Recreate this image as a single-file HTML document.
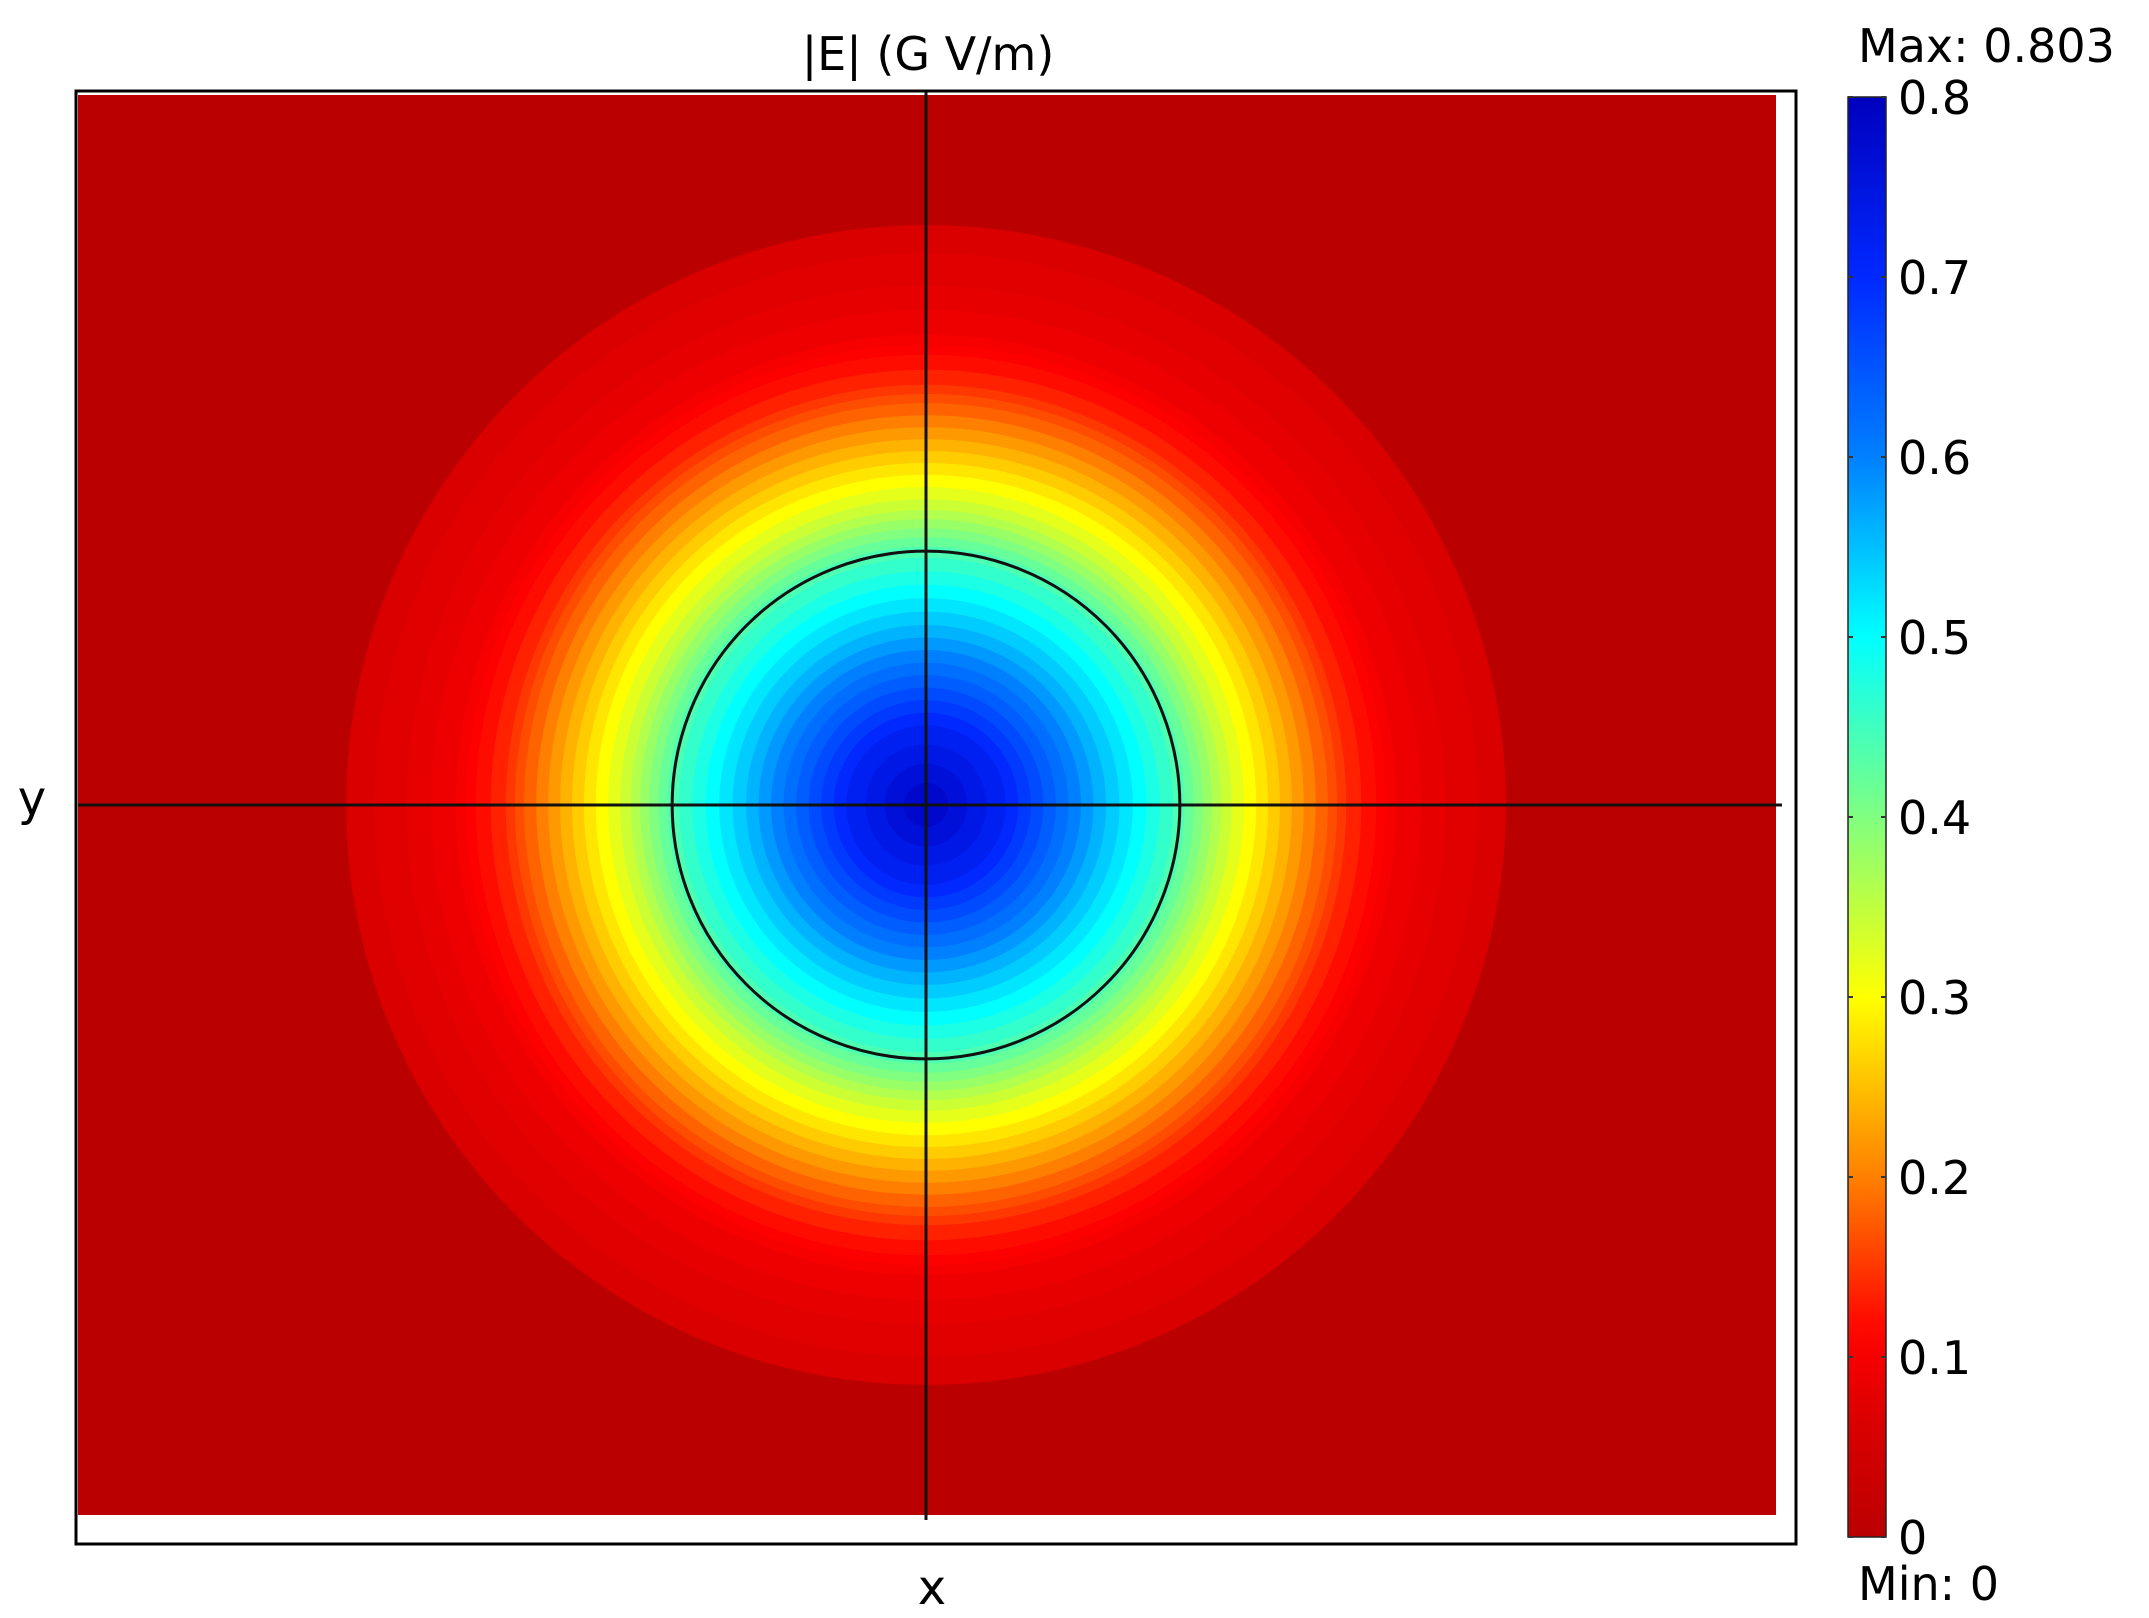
<!DOCTYPE html>
<html><head><meta charset="utf-8"><style>
html,body{margin:0;padding:0;background:#fff;}
svg{display:block;font-family:"DejaVu Sans","Liberation Sans",sans-serif;}
</style></head><body>
<svg id="chart" width="2149" height="1618" viewBox="0 0 2149 1618">
<defs><linearGradient id="cbgrad" x1="0" y1="1" x2="0" y2="0"></linearGradient>
<clipPath id="plotclip"><rect x="78" y="95" width="1698" height="1420"/></clipPath></defs>
<rect x="76" y="91" width="1720" height="1453" fill="#fff" stroke="#000" stroke-width="3"/>
<rect x="78" y="95" width="1698" height="1420" fill="#bb0000"/>
<g id="bands" clip-path="url(#plotclip)"></g>
<g id="lines"></g>
<g id="cbar"></g>
<text x="928" y="70" font-size="46" text-anchor="middle">|E| (G V/m)</text>
<text x="32" y="815" font-size="48" text-anchor="middle">y</text>
<text x="932" y="1604" font-size="48" text-anchor="middle">x</text>
<text x="1858" y="62" font-size="46">Max: 0.803</text>
<text x="1858" y="1600" font-size="46">Min: 0</text>
</svg>
<script>
// radial profile of |E| (r in plot units, E in GV/m)
const profileR = [0, 0.094, 0.212, 0.299, 0.353, 0.389, 0.459, 0.495, 0.554, 0.612, 0.683, 0.82, 1.2];
const profileE = [0.803, 0.72, 0.56, 0.45, 0.35, 0.3, 0.2, 0.15, 0.1, 0.08, 0.065, 0.03, 0.0];
const contourLevels = [0.065,0.072,0.08,0.09,0.1,0.11,0.12,0.135,0.15,0.165,0.18,0.2,0.22,0.24,0.26,0.28,0.3,0.32,0.34,0.36,0.38,0.4,0.42,0.44,0.46,0.48,0.5,0.52,0.54,0.56,0.58,0.6,0.62,0.64,0.66,0.68,0.7,0.72,0.74,0.76,0.78,0.8];
const highlightLevel = [0.45];
const cbTicks = [0,0.1,0.2,0.3,0.4,0.5,0.6,0.7,0.8];
const cbTickLabels = ["0","0.1","0.2","0.3","0.4","0.5","0.6","0.7","0.8"];
const vMin = 0, vMax = 0.8;

const NS = "http://www.w3.org/2000/svg";
const cx = 926, cy = 805, pxPerUnit = 849;
const sx = r => r * pxPerUnit;
const cbTop = 97, cbBot = 1537, cbX = 1848, cbW = 38;
const cbY = v => cbBot - (v - vMin) / (vMax - vMin) * (cbBot - cbTop);

const stops = [[0,[187,0,0]],[0.08,[218,0,0]],[0.14,[255,0,0]],[0.25,[255,128,0]],[0.375,[255,255,0]],[0.5,[128,255,128]],[0.625,[0,255,255]],[0.75,[0,128,255]],[0.875,[0,40,255]],[1,[0,0,190]]];
function color(v){
  let t = Math.max(0, Math.min(1, (v - vMin) / (vMax - vMin)));
  for (let i = 1; i < stops.length; i++) {
    if (t <= stops[i][0]) {
      const a = stops[i-1], b = stops[i], f = (t - a[0]) / (b[0] - a[0]);
      const c = a[1].map((x, k) => Math.round(x + (b[1][k] - x) * f));
      return `rgb(${c[0]},${c[1]},${c[2]})`;
    }
  }
  return "rgb(0,0,190)";
}
function radiusAt(level){
  for (let i = 1; i < profileR.length; i++) {
    if (profileE[i] <= level) {
      const f = (profileE[i-1] - level) / (profileE[i-1] - profileE[i]);
      return profileR[i-1] + f * (profileR[i] - profileR[i-1]);
    }
  }
  return profileR[profileR.length - 1];
}
const bands = document.getElementById("bands");
contourLevels.forEach((lv) => {
  const c = document.createElementNS(NS, "circle");
  c.setAttribute("cx", cx); c.setAttribute("cy", cy);
  c.setAttribute("r", sx(radiusAt(lv)));
  c.setAttribute("fill", color(lv));
  
  
  bands.appendChild(c);
});
const lines = document.getElementById("lines");
highlightLevel.forEach(lv => {
  const c = document.createElementNS(NS, "circle");
  c.setAttribute("cx", cx); c.setAttribute("cy", cy);
  c.setAttribute("r", sx(radiusAt(lv)));
  c.setAttribute("fill", "none"); c.setAttribute("stroke", "#111"); c.setAttribute("stroke-width", "3");
  
  
  lines.appendChild(c);
});
function line(x1,y1,x2,y2,name){
  const l = document.createElementNS(NS, "line");
  l.setAttribute("x1",x1);l.setAttribute("y1",y1);l.setAttribute("x2",x2);l.setAttribute("y2",y2);
  l.setAttribute("stroke","#111");l.setAttribute("stroke-width","3");
  
  
  lines.appendChild(l);
}
line(78, cy, 1782, cy, 'horizontal-cut-line');
line(cx, 92, cx, 1520, 'vertical-cut-line');

// colorbar
const grad = document.getElementById("cbgrad");
for (let i = 0; i <= 40; i++) {
  const v = vMin + (vMax - vMin) * i / 40;
  const s = document.createElementNS(NS, "stop");
  s.setAttribute("offset", (i/40)); s.setAttribute("stop-color", color(v));
  grad.appendChild(s);
}
const cbar = document.getElementById("cbar");
const bar = document.createElementNS(NS, "rect");
bar.setAttribute("x", cbX); bar.setAttribute("y", cbTop); bar.setAttribute("width", cbW); bar.setAttribute("height", cbBot - cbTop);
bar.setAttribute("fill", "url(#cbgrad)"); bar.setAttribute("stroke", "#222"); bar.setAttribute("stroke-width", "1.5");


cbar.appendChild(bar);
cbTicks.forEach((v, i) => {
  const y = cbY(v);
  [[cbX, cbX+5],[cbX+cbW-5, cbX+cbW]].forEach(([a,b]) => {
    const t = document.createElementNS(NS, "line");
    t.setAttribute("x1",a);t.setAttribute("x2",b);t.setAttribute("y1",y);t.setAttribute("y2",y);
    t.setAttribute("stroke","#333");t.setAttribute("stroke-width","2");
    
    
    cbar.appendChild(t);
  });
  const tx = document.createElementNS(NS, "text");
  tx.setAttribute("x", 1898); tx.setAttribute("y", y + 17);
  tx.setAttribute("font-size", "46");
  tx.textContent = cbTickLabels[i];
  
  
  cbar.appendChild(tx);
});
</script>
</body></html>
